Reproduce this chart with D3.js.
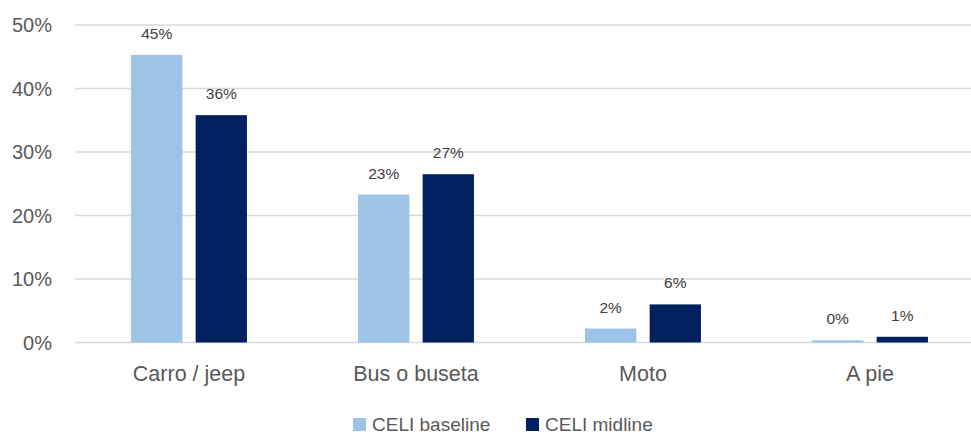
<!DOCTYPE html>
<html>
<head>
<meta charset="utf-8">
<script src="https://cdn.jsdelivr.net/npm/d3@7"></script>
<style>
  html, body { margin: 0; padding: 0; background: #fff; }
  svg { display: block; font-family: "Liberation Sans", Arial, sans-serif; }
</style>
</head>
<body>
<div id="chart"></div>
<script>
// data
var categories = ["Carro / jeep", "Bus o buseta", "Moto", "A pie"];
var seriesNames = ["CELI baseline", "CELI midline"];
var baseline = [45.3, 23.3, 2.2, 0.35];
var midline = [35.8, 26.5, 6.0, 0.9];
var yTicks = [0, 10, 20, 30, 40, 50];
var colors = ["#9DC3E6", "#002060"];

var width = 971, height = 435;

var svg = d3.select("#chart").append("svg")
  .attr("width", width).attr("height", height);

var x = d3.scaleBand().domain(categories).range([75.5, 983.5]);
var x1 = d3.scaleBand().domain(seriesNames).range([0, x.bandwidth()]).paddingInner(0.206).paddingOuter(0.86);
var y = d3.scaleLinear().domain([0, 50]).range([342.5, 25]);

// gridlines
svg.append("g").selectAll("line").data(yTicks).enter().append("line")
  .attr("x1", 75).attr("x2", width)
  .attr("y1", function(d) { return y(d); })
  .attr("y2", function(d) { return y(d); })
  .attr("stroke", "#D9D9D9")
  .attr("stroke-width", 1.3);

// y tick labels
svg.append("g").selectAll("text").data(yTicks).enter().append("text")
  .attr("x", 52)
  .attr("y", function(d) { return y(d); })
  .attr("dy", "0.36em")
  .attr("text-anchor", "end")
  .attr("font-size", 20)
  .attr("fill", "#595959")
  .text(function(d) { return d + "%"; });

var rows = categories.map(function(c, i) {
  return {cat: c, vals: [baseline[i], midline[i]]};
});

var groups = svg.append("g").selectAll("g").data(rows).enter().append("g")
  .attr("transform", function(d) { return "translate(" + x(d.cat) + ",0)"; });

groups.selectAll("rect").data(function(d) { return d.vals; }).enter().append("rect")
  .attr("x", function(d, i) { return x1(seriesNames[i]); })
  .attr("width", x1.bandwidth())
  .attr("y", function(d) { return y(d); })
  .attr("height", function(d) { return y(0) - y(d); })
  .attr("fill", function(d, i) { return colors[i]; });

groups.selectAll("text.lbl").data(function(d) { return d.vals; }).enter().append("text")
  .attr("class", "lbl")
  .attr("x", function(d, i) { return x1(seriesNames[i]) + x1.bandwidth() / 2; })
  .attr("y", function(d) { return y(d) - 16; })
  .attr("text-anchor", "middle")
  .attr("font-size", 15.5)
  .attr("fill", "#404040")
  .text(function(d) { return Math.round(d) + "%"; });

// category labels
svg.append("g").selectAll("text").data(categories).enter().append("text")
  .attr("x", function(d) { return x(d) + x.bandwidth() / 2; })
  .attr("y", 381)
  .attr("text-anchor", "middle")
  .attr("font-size", 21.5)
  .attr("fill", "#595959")
  .text(function(d) { return d; });

// legend
var legX = [353, 526];
var leg = svg.append("g").selectAll("g").data(seriesNames).enter().append("g")
  .attr("transform", function(d, i) { return "translate(" + legX[i] + ",418)"; });
leg.append("rect").attr("width", 13).attr("height", 13)
  .attr("fill", function(d, i) { return colors[i]; });
leg.append("text")
  .attr("x", 19).attr("y", 6.5).attr("dy", "0.34em")
  .attr("font-size", 19)
  .attr("fill", "#595959")
  .text(function(d) { return d; });
</script>
</body>
</html>
